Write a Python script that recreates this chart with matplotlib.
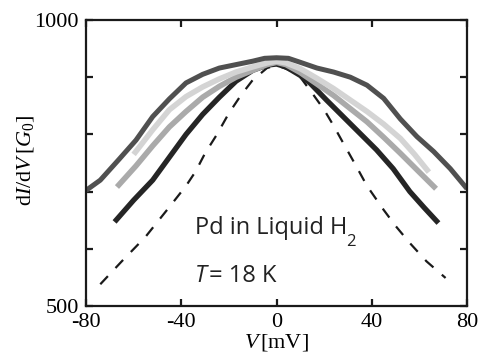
import matplotlib
matplotlib.use('Agg')
import matplotlib.pyplot as plt

plt.rcParams['mathtext.fontset'] = 'custom'
plt.rcParams['mathtext.rm'] = 'Liberation Serif'
plt.rcParams['mathtext.it'] = 'Liberation Serif:italic'

# curves: bias V (mV) vs dI/dV (G0)
v_outer = [-80, -74, -66, -59, -52, -45, -38, -31, -24, -17, -10, -5, 0,
           5, 10, 17, 24, 31, 38, 45, 52, 59, 66, 73, 80]
g_outer = [702, 720, 757, 790, 831, 862, 890, 905, 916, 922, 928, 933, 934,
           933, 926, 916, 909, 900, 886, 863, 827, 796, 770, 740, 705]

v_light = [-60, -52, -45, -38, -31, -24, -17, -10, -4, 0,
           4, 10, 17, 24, 31, 38, 45, 52, 58, 64]
g_light = [765, 808, 843, 866, 883, 897, 909, 918, 925, 928,
           925, 915, 898, 880, 860, 840, 818, 793, 765, 734]

v_mid = [-67, -59, -52, -45, -38, -31, -24, -17, -10, -4, 0,
         4, 10, 17, 24, 31, 38, 45, 52, 59, 67]
g_mid = [708, 745, 780, 813, 840, 865, 884, 900, 912, 922, 926,
         922, 908, 888, 868, 845, 822, 795, 767, 738, 705]

v_black = [-68, -60, -52, -45, -38, -31, -24, -17, -10, -4, 0,
           4, 10, 14, 21, 28, 35, 42, 49, 56, 62, 68]
g_black = [647, 685, 720, 760, 800, 835, 865, 893, 912, 921, 923,
           918, 903, 890, 860, 831, 802, 773, 740, 700, 672, 645]

v_dash = [-74, -65, -55, -45, -38, -34, -30, -25, -20, -15, -10, -4, 0,
          5, 10, 15, 20, 24, 28, 33, 38, 45, 50, 56, 63, 71]
g_dash = [538, 578, 621, 673, 710, 735, 767, 800, 837, 868, 895, 916, 921,
          913, 900, 872, 843, 815, 785, 748, 710, 668, 640, 610, 578, 549]

x_ticks = [-80, -40, 0, 40, 80]
y_ticks = [500, 600, 700, 800, 900, 1000]
y_ticklabels = ['500', '', '', '', '', '1000']

fig = plt.figure(figsize=(4.81, 3.61), dpi=100)
ax = fig.add_axes([0.1788, 0.1524, 0.7921, 0.7922])

ax.plot(v_dash, g_dash, color='#1a1a1a', lw=1.6, dashes=(5, 5))
ax.plot(v_black, g_black, color='#252525', lw=3.8, solid_capstyle='butt')
ax.plot(v_mid, g_mid, color='#aaaaaa', lw=4.0, solid_capstyle='butt')
ax.plot(v_light, g_light, color='#d4d4d4', lw=4.0, solid_capstyle='butt')
ax.plot(v_outer, g_outer, color='#505050', lw=3.6, solid_capstyle='butt')

ax.set_xlim(-80, 80)
ax.set_ylim(500, 1000)
ax.set_xticks(x_ticks)
ax.set_xticklabels([str(t) for t in x_ticks])
ax.set_yticks(y_ticks)
ax.set_yticklabels(y_ticklabels)

for s in ax.spines.values():
    s.set_linewidth(1.6)
    s.set_color('#1a1a1a')
ax.tick_params(direction='in', length=5, width=1.6, top=True, right=True,
               labelsize=16, pad=5, color='#1a1a1a')
for lab in ax.get_xticklabels() + ax.get_yticklabels():
    lab.set_family('Liberation Serif')

ax.set_xlabel(r'$V\,$[mV]', fontsize=16, family='Liberation Serif', labelpad=0)
ax.set_ylabel(r'd$I$/d$V\,$[$G_0$]', fontsize=16, family='Liberation Serif')
ax.yaxis.set_label_coords(-0.13, 0.51)

txt = dict(transform=ax.transAxes, fontsize=17, family='Open Sans', color='#222222')
ax.text(0.285, 0.252, 'Pd in Liquid H', **txt)
ax.text(0.683, 0.21, '2', transform=ax.transAxes, fontsize=12,
        family='Open Sans', color='#222222')
ax.text(0.285, 0.083, 'T', style='italic', **txt)
ax.text(0.322, 0.083, '= 18 K', **txt)

fig.savefig('out.png', dpi=100)
